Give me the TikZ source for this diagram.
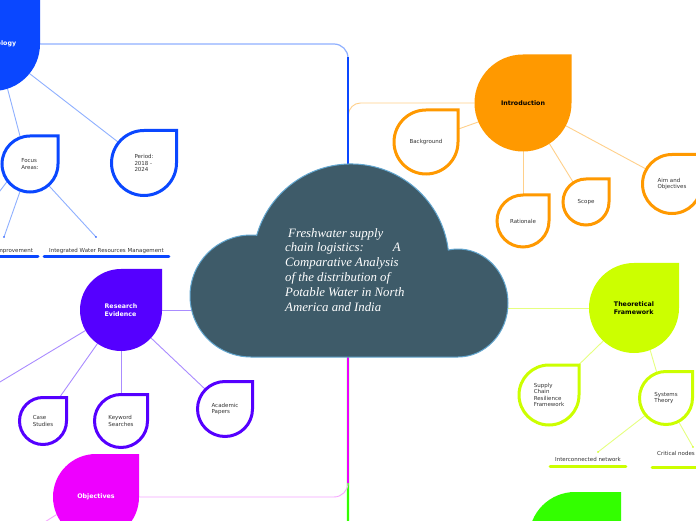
\documentclass[tikz,border=0pt]{standalone}
\usepackage{fontspec}
\setmainfont{DejaVu Sans}
\newfontfamily\cloudfont{Liberation Serif}
\pgfdeclarelayer{bg}
\pgfdeclarelayer{shp}
\pgfsetlayers{bg,shp,main}
\definecolor{mblue}{HTML}{0A47FF}
\definecolor{lblue}{HTML}{8FB0FF}
\definecolor{morange}{HTML}{FF9900}
\definecolor{lorange}{HTML}{FFD08A}
\definecolor{mpurple}{HTML}{5500FF}
\definecolor{lpurple}{HTML}{AA8CFF}
\definecolor{mmag}{HTML}{EE00FF}
\definecolor{lmag}{HTML}{F6A6FF}
\definecolor{mlime}{HTML}{CCFF00}
\definecolor{llime}{HTML}{E6FF80}
\definecolor{mgreen}{HTML}{33FF00}
\definecolor{cloudfill}{HTML}{3E5B69}
\definecolor{cloudedge}{HTML}{63A7D0}
\definecolor{txtgray}{HTML}{333333}

\newcommand{\drop}[7]{%
  \node[#2, minimum size={2*#6pt}] (#3) at (#4,#5) {#7};
  \begin{pgfonlayer}{shp}
    \path[#1] (#3.north) -- (#3.north -| #3.east) -- (#3.east)
      arc[start angle=0, end angle=-270, radius=#6] -- cycle;
  \end{pgfonlayer}}

\tikzset{
  dropn/.style={circle, inner sep=0pt, outer sep=0pt, align=left,
    font=\fontsize{5.5}{6.5}\selectfont, text=txtgray},
  boldn/.style={circle, inner sep=0pt, outer sep=0pt, align=left,
    font=\fontsize{6.3}{8.3}\selectfont\bfseries},
  leaf/.style={inner xsep=5pt, inner ysep=3pt, outer sep=0pt, text height=4.2pt,
    text depth=1.2pt, font=\fontsize{5.5}{6.5}\selectfont, text=txtgray},
  uline/.style={line width=3pt, line cap=round},
  lc/.style={line width=0.9pt},
  outl/.style={draw=#1, line width=3pt, fill=white},
}

\begin{document}
\begin{tikzpicture}[x=1pt,y=1pt]
\useasboundingbox (0,0) rectangle (696,520);
\begin{pgfonlayer}{bg}
\fill[white] (0,0) rectangle (696,520);
\end{pgfonlayer}

% ---------- cloud ----------
\begin{pgfonlayer}{shp}
\path[fill=cloudfill, draw=cloudedge, line width=1pt]
  (458,163) arc[start angle=-90, end angle=101.2, x radius=50, y radius=54]
  arc[start angle=7.0, end angle=164.2, radius=98]
  arc[start angle=84.6, end angle=270, radius=61] -- cycle;
\end{pgfonlayer}
\node[anchor=north west, inner sep=0pt, align=left, text=white,
  font=\cloudfont\itshape\fontsize{12.8}{14.9}\selectfont] (title) at (285,292)
  {\hspace{3pt}Freshwater supply\\
   chain logistics:\hspace{29pt}A\\
   Comparative Analysis\\
   of the distribution of\\
   Potable Water in North\\
   America and India};
\coordinate (ctop) at (348,355);
\coordinate (cbot) at (348,163);
\coordinate (cleft) at (191,210);
\coordinate (cright) at (507,212);

% ---------- main nodes ----------
\drop{fill=mblue}{boldn, text=white}{meth}{-7}{476}{47}{Methodology}
\drop{fill=morange}{boldn, text=black}{intro}{523}{417}{48.5}{Introduction}
\drop{fill=mpurple}{boldn, text=white}{re}{121}{210}{41}{Research\\Evidence}
\drop{fill=mmag}{boldn, text=white}{obj}{96}{23}{43}{Objectives}
\drop{fill=mlime}{boldn, text=black}{tf}{634}{212}{45}{Theoretical\\Framework}
\drop{fill=mgreen}{boldn}{green}{575}{-18}{46}{}

% ---------- sub nodes ----------
\drop{outl=mblue}{dropn}{focus}{30}{356}{28}{Focus\\Areas:}
\drop{outl=mblue}{dropn}{period}{144}{357}{32.5}{Period:\\2018 -\\2024}
\drop{outl=morange}{dropn}{bg}{426}{378}{32}{Background}
\drop{outl=morange}{dropn}{rat}{523}{299}{26}{Rationale}
\drop{outl=morange}{dropn}{scope}{586}{318}{23}{Scope}
\drop{outl=morange}{dropn}{aim}{672}{336}{29.5}{Aim and\\Objectives}
\drop{outl=mpurple}{dropn}{case}{43}{99}{23.5}{Case\\Studies}
\drop{outl=mpurple}{dropn}{kw}{121}{99}{26.5}{Keyword\\Searches}
\drop{outl=mpurple}{dropn}{acad}{225}{111}{27.5}{Academic\\Papers}
\drop{outl=mlime}{dropn}{scrf}{549}{125}{30}{Supply\\Chain\\Resilience\\Framework}
\drop{outl=mlime}{dropn}{sys}{666}{122}{26.5}{Systems\\Theory}

% ---------- leaves ----------
\node[leaf, anchor=south east] (impr) at (38,263) {Improvement};
\node[leaf, anchor=south] (iwrm) at (106.5,263) {Integrated Water Resources Management};
\node[leaf, anchor=south] (icn) at (588,54) {Interconnected network};
\node[leaf, anchor=south, inner ysep=10.5pt] (crit) at (676,53) {Critical nodes};
\draw[uline, mblue] (impr.south west) -- (impr.south east);
\draw[uline, mblue] (iwrm.south west) -- (iwrm.south east);
\draw[uline, mlime] (icn.south west) -- (icn.south east);
\draw[uline, mlime] (crit.south west) -- (crit.south east);

\coordinate (imprend) at (4,283);
\coordinate (iwrmend) at (96,283);
\coordinate (icnend) at (598,68);
\coordinate (critend) at (693,73);
\coordinate (focoff) at (-10,316);
\coordinate (reoff) at (-20,126);
\coordinate (objoff) at (40,-5);

% ---------- connectors ----------
\begin{pgfonlayer}{bg}
\draw[lc, lorange, rounded corners=12] (intro.west) -- (348.5,417) -- (ctop);
\draw[lc, lblue, line width=1.2pt, rounded corners=14] (meth.east) -- (348,476) -- (ctop);
\draw[mblue, line width=2.6pt] (348,463) -- (ctop);
\draw[lc, lpurple] (re.east) -- (cleft);
\draw[lc, llime] (cright) -- (tf.west);
\draw[mgreen, line width=2.2pt, rounded corners=14] (cbot) -- (348,-18) -- (green.west);
\draw[lc, lmag, rounded corners=14] (obj.east) -- (348,23) -- (cbot);
\draw[mmag, line width=2.2pt] (cbot) -- (348,37);
\draw[lc, lblue] (meth.-72) -- (focus.110);
\draw[lc, lblue] (meth.-39) -- (period.141);
\draw[lc, lblue] (focus.-110) -- (imprend);
\draw[lc, lblue] (focus.-49) -- (iwrmend);
\draw[lc, lblue] (focus.-143) -- (focoff);
\fill[mblue] (imprend) circle (0.9);
\fill[mblue] (iwrmend) circle (0.9);
\draw[lc, lorange] (intro.-157) -- (bg.22);
\draw[lc, lorange] (intro.-90) -- (rat.90);
\draw[lc, lorange] (intro.-57) -- (scope.123);
\draw[lc, lorange] (intro.-28) -- (aim.150);
\draw[lc, lpurple] (re.-125) -- (case.55);
\draw[lc, lpurple] (re.-90) -- (kw.90);
\draw[lc, lpurple] (re.-43) -- (acad.135);
\draw[lc, lpurple] (re.-150) -- (reoff);
\draw[lc, lmag] (obj.-156) -- (objoff);
\draw[lc, llime] (tf.-133) -- (scrf.46);
\draw[lc, llime] (tf.-69) -- (sys.110);
\draw[lc, llime] (sys.-140) -- (icnend);
\draw[lc, llime] (sys.-62) -- (critend);
\fill[mlime] (icnend) circle (0.9);
\fill[mlime] (critend) circle (0.9);
\end{pgfonlayer}
\end{tikzpicture}
\end{document}
